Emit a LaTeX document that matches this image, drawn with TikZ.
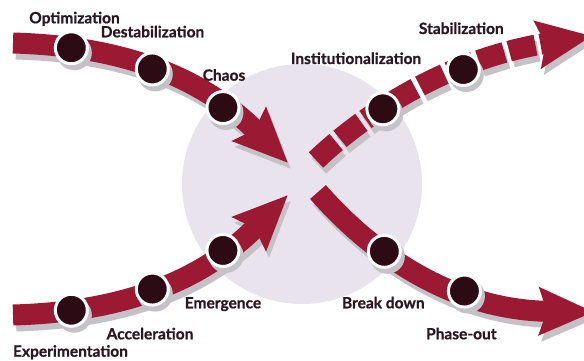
\documentclass[tikz,border=0pt]{standalone}
\usepackage{fontspec}
\setmainfont{Lato}[BoldFeatures={FakeBold=0.8}]
\usetikzlibrary{arrows.meta}
\definecolor{arrowred}{HTML}{9B1932}
\definecolor{dotdark}{HTML}{2C0B14}
\definecolor{lav}{HTML}{E8E3EC}
\definecolor{txt}{HTML}{2A1820}
\definecolor{shade}{HTML}{C4C2C7}
\begin{document}
\begin{tikzpicture}[x=1pt,y=-1pt,
  band/.style={line width=21pt, draw=arrowred, -{Stealth[length=54pt,width=46pt,inset=7pt]}},
  bandshadow/.style={line width=21pt, draw=shade, -{Stealth[length=54pt,width=46pt,inset=7pt]}},
  gapdash/.style={dash pattern=on 27pt off 5pt},
  dot/.style={circle, fill=dotdark, draw=white, line width=3pt, minimum size=32pt, inner sep=0pt},
  dotshadow/.style={circle, fill=shade, minimum size=35pt, inner sep=0pt},
  lbl/.style={font=\fontsize{15.5}{18}\selectfont\bfseries, text=txt, anchor=base, inner sep=0pt}]
\useasboundingbox (0,0) rectangle (584,361);
\clip (0,0) rectangle (584,361);
\fill[lav] (302,184) circle (120pt);
% curve control points
\coordinate (a0) at (13,43);  \coordinate (a1) at (120,46);  \coordinate (a2) at (200,75);  \coordinate (a3) at (288,163);
\coordinate (c0) at (13,315); \coordinate (c1) at (120,312); \coordinate (c2) at (200,283); \coordinate (c3) at (288,195);
\coordinate (b0) at (316,160); \coordinate (b1) at (358,120); \coordinate (b2) at (440,60); \coordinate (b3) at (592,36);
\coordinate (e0) at (318,192); \coordinate (e1) at (360,240); \coordinate (e2) at (440,310); \coordinate (e3) at (594,312);
% band shadows
\begin{scope}[transform canvas={shift={(3,6)}}]
  \draw[bandshadow] (a0) .. controls (a1) and (a2) .. (a3);
  \draw[bandshadow] (c0) .. controls (c1) and (c2) .. (c3);
  \draw[bandshadow,gapdash] (b0) .. controls (b1) and (b2) .. (b3);
  \draw[bandshadow] (e0) .. controls (e1) and (e2) .. (e3);
\end{scope}
% bands
\draw[band] (a0) .. controls (a1) and (a2) .. (a3);
\draw[band] (c0) .. controls (c1) and (c2) .. (c3);
\draw[band,gapdash] (b0) .. controls (b1) and (b2) .. (b3);
\draw[band] (e0) .. controls (e1) and (e2) .. (e3);
% dot shadows
\begin{scope}[transform canvas={shift={(3,5)}}]
  \path (a0) .. controls (a1) and (a2) .. (a3)
    node[dotshadow,pos=0.19] {} node[dotshadow,pos=0.48] {} node[dotshadow,pos=0.75] {};
  \path (c0) .. controls (c1) and (c2) .. (c3)
    node[dotshadow,pos=0.19] {} node[dotshadow,pos=0.48] {} node[dotshadow,pos=0.75] {};
  \path (b0) .. controls (b1) and (b2) .. (b3)
    node[dotshadow,pos=0.38] {} node[dotshadow,pos=0.67] {};
  \path (e0) .. controls (e1) and (e2) .. (e3)
    node[dotshadow,pos=0.38] {} node[dotshadow,pos=0.67] {};
\end{scope}
% dots
\path (a0) .. controls (a1) and (a2) .. (a3)
  node[dot,pos=0.19] (opt) {} node[dot,pos=0.48] (dest) {} node[dot,pos=0.75] (chaos) {};
\path (c0) .. controls (c1) and (c2) .. (c3)
  node[dot,pos=0.19] (exp) {} node[dot,pos=0.48] (acc) {} node[dot,pos=0.75] (emer) {};
\path (b0) .. controls (b1) and (b2) .. (b3)
  node[dot,pos=0.38] (inst) {} node[dot,pos=0.67] (stab) {};
\path (e0) .. controls (e1) and (e2) .. (e3)
  node[dot,pos=0.38] (brk) {} node[dot,pos=0.67] (phase) {};
% labels
\node[lbl] (topt) at (74.5,23.3) {Optimization};
\node[lbl] (tdest) at (152.5,37.3) {Destabilization};
\node[lbl] (tchaos) at (224,80.7) {Chaos};
\node[lbl] (tinst) at (356,64) {Institutionalization};
\node[lbl] (tstab) at (461.3,34) {Stabilization};
\node[lbl] (temer) at (223,308.3) {Emergence};
\node[lbl] (tacc) at (150,339.3) {Acceleration};
\node[lbl] (texp) at (70.5,356.7) {Experimentation};
\node[lbl] (tbrk) at (383.3,308.3) {Break down};
\node[lbl] (tphase) at (461.3,339.3) {Phase-out};
\end{tikzpicture}
\end{document}
